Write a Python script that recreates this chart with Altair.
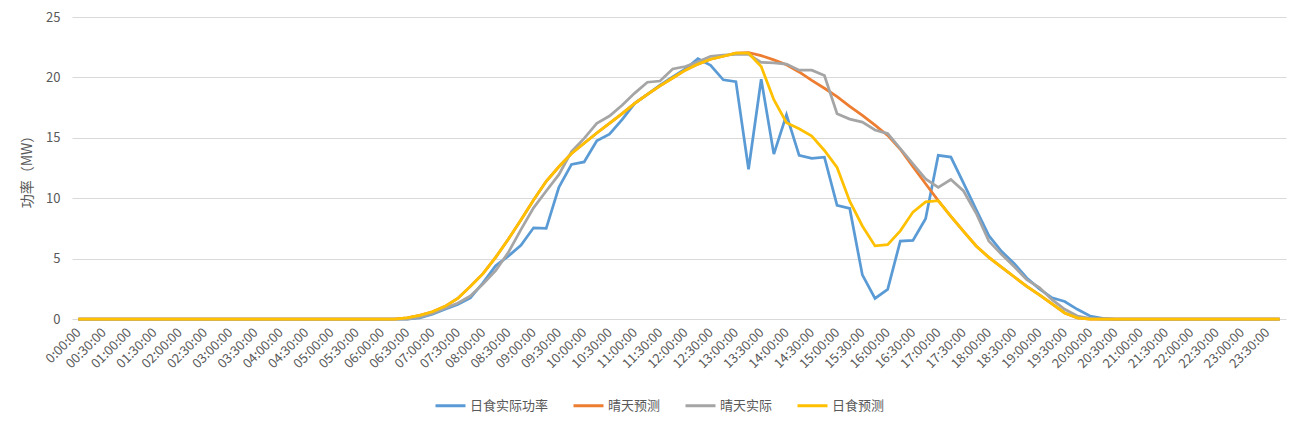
import altair as alt
import pandas as pd

# categories: 15-minute time stamps over a day
times = ["0:00:00"] + [f"{(i * 15) // 60:02d}:{(i * 15) % 60:02d}:00" for i in range(1, 96)]
tick_labels = times[::2]

series_names = ["日食实际功率", "晴天预测", "晴天实际", "日食预测"]
series_colors = ["#5B9BD5", "#ED7D31", "#A5A5A5", "#FFC000"]

eclipse_actual = [
    0, 0, 0, 0, 0, 0, 0, 0, 0, 0, 0, 0, 0, 0, 0, 0, 0, 0, 0, 0, 0, 0, 0, 0, 0, 0,
    0.0, 0.1, 0.4, 0.8, 1.2, 1.75, 3.0, 4.4, 5.2, 6.1,
    7.55, 7.5, 10.9, 12.8, 13.0, 14.75, 15.3, 16.5, 17.85, 18.6,
    19.35, 20.05, 20.7, 21.55, 21.0, 19.8, 19.65, 12.4, 19.85, 13.65,
    16.9, 13.55, 13.3, 13.4, 9.4, 9.15, 3.65, 1.7, 2.45, 6.45,
    6.5, 8.3, 13.55, 13.4, 11.25, 9.05, 6.9, 5.6, 4.6, 3.4,
    2.5, 1.75, 1.45, 0.8, 0.25, 0.05,
    0, 0, 0, 0, 0, 0, 0, 0, 0, 0, 0, 0, 0, 0,
]

clear_forecast = [
    0, 0, 0, 0, 0, 0, 0, 0, 0, 0, 0, 0, 0, 0, 0, 0, 0, 0, 0, 0, 0, 0, 0, 0, 0, 0,
    0.1, 0.3, 0.6, 1.05, 1.7, 2.7, 3.75, 5.1, 6.6, 8.2,
    9.85, 11.4, 12.6, 13.7, 14.55, 15.4, 16.2, 17.0, 17.85, 18.6,
    19.3, 19.95, 20.6, 21.1, 21.5, 21.75, 22.0, 22.05, 21.8, 21.45,
    21.05, 20.45, 19.75, 19.1, 18.4, 17.6, 16.85, 16.05, 15.2, 14.05,
    12.6, 11.2, 9.8, 8.5, 7.25, 6.05, 5.1, 4.3, 3.5, 2.7,
    2.0, 1.25, 0.5, 0.1, 0, 0,
    0, 0, 0, 0, 0, 0, 0, 0, 0, 0, 0, 0, 0, 0,
]

clear_actual = [
    0, 0, 0, 0, 0, 0, 0, 0, 0, 0, 0, 0, 0, 0, 0, 0, 0, 0, 0, 0, 0, 0, 0, 0, 0, 0,
    0.0, 0.15, 0.45, 0.9, 1.3, 1.9, 2.9, 4.0, 5.5, 7.4,
    9.2, 10.6, 11.95, 13.85, 14.95, 16.2, 16.8, 17.7, 18.7, 19.6,
    19.7, 20.7, 20.9, 21.3, 21.75, 21.85, 21.9, 21.9, 21.25, 21.2,
    21.1, 20.6, 20.6, 20.15, 17.0, 16.55, 16.3, 15.65, 15.35, 14.1,
    12.85, 11.6, 10.9, 11.55, 10.6, 8.75, 6.45, 5.35, 4.35, 3.25,
    2.6, 1.6, 0.8, 0.25, 0.05, 0,
    0, 0, 0, 0, 0, 0, 0, 0, 0, 0, 0, 0, 0, 0,
]

eclipse_forecast = [
    0, 0, 0, 0, 0, 0, 0, 0, 0, 0, 0, 0, 0, 0, 0, 0, 0, 0, 0, 0, 0, 0, 0, 0, 0, 0,
    0.1, 0.3, 0.6, 1.05, 1.7, 2.7, 3.75, 5.1, 6.6, 8.2,
    9.85, 11.4, 12.6, 13.7, 14.55, 15.4, 16.2, 17.0, 17.85, 18.6,
    19.3, 19.95, 20.6, 21.1, 21.5, 21.75, 22.0, 22.0, 20.9, 18.15,
    16.25, 15.75, 15.15, 13.95, 12.55, 9.75, 7.7, 6.05, 6.15, 7.3,
    8.85, 9.7, 9.8, 8.5, 7.25, 6.05, 5.1, 4.3, 3.5, 2.7,
    2.0, 1.25, 0.5, 0.1, 0, 0,
    0, 0, 0, 0, 0, 0, 0, 0, 0, 0, 0, 0, 0, 0,
]

all_series = [eclipse_actual, clear_forecast, clear_actual, eclipse_forecast]

rows = []
for name, vals in zip(series_names, all_series):
    for t, v in zip(times, vals):
        rows.append({"time": t, "series": name, "value": v})
df = pd.DataFrame(rows)

FONT = "Noto Sans CJK SC"
TXT = "#595959"

x_enc = alt.X(
    "time:O",
    sort=times,
    scale=alt.Scale(type="point", padding=0.5),
    axis=alt.Axis(
        values=tick_labels,
        labelAngle=-45,
        labelAlign="right",
        labelBaseline="middle",
        labelPadding=11,
        labelOverlap=False,
        labelFontSize=13,
        labelColor=TXT,
        labelFont=FONT,
        domain=False,
        ticks=False,
        grid=False,
        title=None,
    ),
)

y_enc = alt.Y(
    "value:Q",
    scale=alt.Scale(domain=[0, 25]),
    axis=alt.Axis(
        values=[0, 5, 10, 15, 20, 25],
        grid=True,
        gridColor="#D9D9D9",
        gridWidth=1,
        domain=False,
        ticks=False,
        labelPadding=12,
        labelFontSize=13,
        labelColor=TXT,
        labelFont=FONT,
        title="功率（MW）",
        titleFont=FONT,
        titleFontSize=14,
        titleFontWeight="normal",
        titleColor=TXT,
        titlePadding=11,
    ),
)

color_enc = alt.Color(
    "series:N",
    scale=alt.Scale(domain=series_names, range=series_colors),
    legend=alt.Legend(
        title=None,
        orient="none",
        legendX=362,
        legendY=372,
        direction="horizontal",
        symbolType="stroke",
        symbolSize=900,
        symbolStrokeWidth=3,
        labelFontSize=13,
        labelFont=FONT,
        labelColor=TXT,
        labelOffset=3,
        columnPadding=18,
    ),
)

layers = []
for name in series_names:
    layers.append(
        alt.Chart(df)
        .transform_filter(alt.datum.series == name)
        .mark_line(strokeWidth=2.75)
        .encode(x=x_enc, y=y_enc, color=color_enc)
    )

chart = (
    alt.layer(*layers)
    .properties(
        width=1214,
        height=302,
        autosize=alt.AutoSizeParams(type="none"),
        padding={"left": 64, "top": 9, "right": 16, "bottom": 100},
        background="white",
    )
    .configure_view(stroke=None)
)

chart.save("out.html", embed_options={"renderer": "svg", "actions": False})
